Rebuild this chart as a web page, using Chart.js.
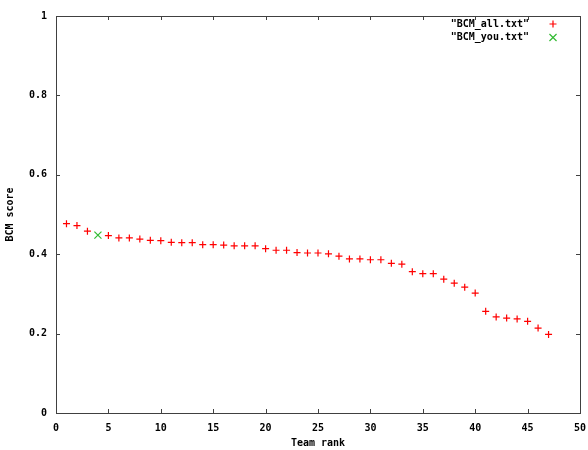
<!DOCTYPE html>
<html>
<head>
<meta charset="utf-8">
<script src="https://cdn.jsdelivr.net/npm/chart.js@4"></script>
<style>
  html, body { margin: 0; padding: 0; background: #fff; }
  canvas { display: block; }
</style>
</head>
<body>
<canvas id="bcmChart" width="588" height="450"></canvas>
<script>
// ===== Data =====
const teamRanks = [1, 2, 3, 4, 5, 6, 7, 8, 9, 10, 11, 12, 13, 14, 15, 16, 17, 18, 19, 20,
  21, 22, 23, 24, 25, 26, 27, 28, 29, 30, 31, 32, 33, 34, 35, 36, 37, 38, 39, 40,
  41, 42, 43, 44, 45, 46, 47];
// rank 4 is "you", drawn in the second series
const allScores = [0.477, 0.472, 0.458, null, 0.447, 0.441, 0.441, 0.438, 0.435, 0.434,
  0.430, 0.429, 0.429, 0.424, 0.424, 0.423, 0.421, 0.421, 0.421, 0.414,
  0.410, 0.410, 0.404, 0.403, 0.403, 0.401, 0.395, 0.388, 0.388, 0.386,
  0.386, 0.377, 0.375, 0.356, 0.351, 0.351, 0.337, 0.327, 0.317, 0.302,
  0.256, 0.242, 0.239, 0.237, 0.231, 0.214, 0.198];
const youRanks = [4];
const youScores = [0.448];
const seriesLabels = ['"BCM_all.txt"', '"BCM_you.txt"'];
const xTitle = 'Team rank';
const yTitle = 'BCM score';

const FONT = { family: '"DejaVu Sans Mono", monospace', size: 10, weight: 'bold' };

// ===== Frame + inward ticks on all sides, gnuplot style =====
const framePlugin = {
  id: 'frame',
  beforeDatasetsDraw(chart) {
    const { ctx, chartArea: a, scales } = chart;
    ctx.save();
    ctx.strokeStyle = '#404040';
    ctx.lineWidth = 1;
    ctx.strokeRect(a.left + 0.5, a.top + 0.5, a.right - a.left, a.bottom - a.top);
    ctx.beginPath();
    scales.x.ticks.forEach(t => {
      const px = Math.round(scales.x.getPixelForValue(t.value)) + 0.5;
      ctx.moveTo(px, a.bottom); ctx.lineTo(px, a.bottom - 4);
      ctx.moveTo(px, a.top); ctx.lineTo(px, a.top + 4);
    });
    scales.y.ticks.forEach(t => {
      const py = Math.round(scales.y.getPixelForValue(t.value)) + 0.5;
      ctx.moveTo(a.left, py); ctx.lineTo(a.left + 4, py);
      ctx.moveTo(a.right, py); ctx.lineTo(a.right - 4, py);
    });
    ctx.stroke();
    ctx.restore();
  },
  afterDatasetsDraw(chart) {
    // legend: right-aligned label, marker to its right
    const { ctx } = chart;
    ctx.save();
    ctx.font = `${FONT.weight} ${FONT.size}px ${FONT.family}`;
    ctx.fillStyle = '#000';
    ctx.textAlign = 'right';
    ctx.textBaseline = 'middle';
    chart.data.datasets.forEach((ds, i) => {
      const y = 24 + i * 13.5;
      ctx.fillText(ds.label, 529, y);
      ctx.strokeStyle = ds.borderColor;
      ctx.lineWidth = ds.borderWidth;
      Chart.helpers.drawPoint(ctx, { pointStyle: ds.pointStyle, radius: ds.pointRadius, borderWidth: ds.borderWidth }, 553, y);
    });
    ctx.restore();
  }
};

const allPoints = teamRanks
  .map((r, i) => ({ x: r, y: allScores[i] }))
  .filter(p => p.y !== null);
const youPoints = youRanks.map((r, i) => ({ x: r, y: youScores[i] }));

new Chart(document.getElementById('bcmChart'), {
  type: 'scatter',
  data: {
    datasets: [
      { label: seriesLabels[0], data: allPoints, pointStyle: 'cross', pointRadius: 3.5,
        borderColor: '#ff0000', backgroundColor: '#ff0000', borderWidth: 1.2 },
      { label: seriesLabels[1], data: youPoints, pointStyle: 'crossRot', pointRadius: 5,
        borderColor: '#33bb33', backgroundColor: '#33bb33', borderWidth: 1.2 }
    ]
  },
  options: {
    responsive: false,
    animation: false,
    devicePixelRatio: 1,
    layout: { padding: { top: 16, right: 8, left: 0, bottom: 0 } },
    plugins: { legend: { display: false }, tooltip: { enabled: false } },
    scales: {
      x: {
        type: 'linear', min: 0, max: 50,
        grid: { display: false, drawTicks: false, tickLength: 0 }, border: { display: false },
        ticks: { stepSize: 5, padding: 9, color: '#000', font: FONT, maxRotation: 0 },
        title: { display: true, text: xTitle, color: '#000', font: FONT, padding: { top: 0, bottom: 1 } },
        afterFit: s => { s.height = 37; s.paddingLeft = 0; s.paddingRight = 0; }
      },
      y: {
        type: 'linear', min: 0, max: 1,
        grid: { display: false, drawTicks: false, tickLength: 0 }, border: { display: false },
        ticks: { stepSize: 0.2, padding: 9, color: '#000', font: FONT,
          callback: v => String(Math.round(v * 10) / 10) },
        title: { display: true, text: yTitle, color: '#000', font: FONT, padding: { top: 4, bottom: 0 } },
        afterFit: s => { s.width = 56; s.paddingTop = 0; s.paddingBottom = 0; }
      }
    }
  },
  plugins: [framePlugin]
});
</script>
</body>
</html>
